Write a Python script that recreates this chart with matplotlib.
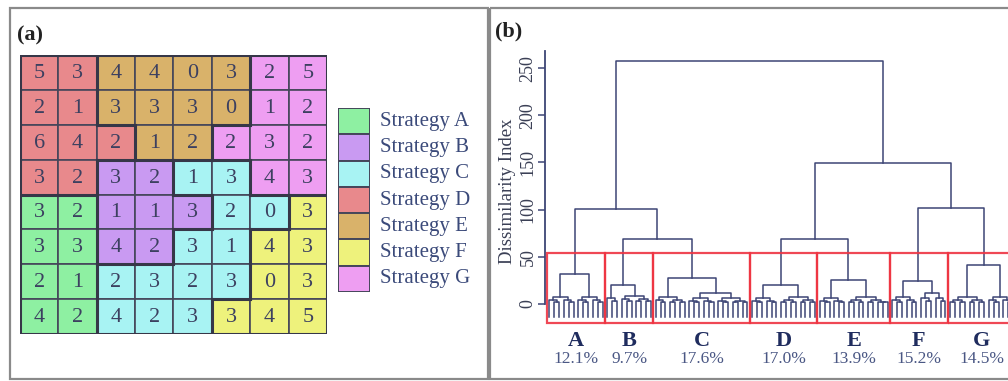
import matplotlib
matplotlib.use("Agg")
import matplotlib.pyplot as plt
from matplotlib.patches import Rectangle

plt.rcParams['font.family'] = ['Liberation Serif', 'DejaVu Serif']

# ---- panel (a) data: 8x8 grid of values and the strategy of each cell
grid_values = [
    [5, 3, 4, 4, 0, 3, 2, 5],
    [2, 1, 3, 3, 3, 0, 1, 2],
    [6, 4, 2, 1, 2, 2, 3, 2],
    [3, 2, 3, 2, 1, 3, 4, 3],
    [3, 2, 1, 1, 3, 2, 0, 3],
    [3, 3, 4, 2, 3, 1, 4, 3],
    [2, 1, 2, 3, 2, 3, 0, 3],
    [4, 2, 4, 2, 3, 3, 4, 5],
]
grid_strategy = ["DDEEEEGG", "DDEEEEGG", "DDDEEGGG", "DDBBCCGG",
                 "AABBBCCF", "AABBCCFF", "AACCCCFF", "AACCCFFF"]
strategies = ["A", "B", "C", "D", "E", "F", "G"]
strategy_colors = ["#8ef0a2", "#c99af2", "#a8f3f3", "#e8898c",
                   "#d9b26a", "#eef27c", "#ee9ef2"]

# ---- panel (b) data: dendrogram
clusters = ["A", "B", "C", "D", "E", "F", "G"]
shares = ["12.1%", "9.7%", "17.6%", "17.0%", "13.9%", "15.2%", "14.5%"]
cluster_heights = [32, 20, 28, 20, 25, 24, 41]
left_sizes = [6, 3, 7, 6, 6, 6, 8]
right_sizes = [6, 7, 13, 8, 9, 6, 6]
left_heights = [7, 6, 8, 6, 6, 8, 8]
right_heights = [8, 9, 12, 8, 8, 12, 7]
upper_left = ["B", "A", "D", "F", "DE", "ABC"]
upper_right = ["C", "BC", "E", "G", "FG", "DEFG"]
upper_heights = [69, 101, 69, 102, 149, 258]
cut_height = 54
leaf_bottom = -14
pair_height = 2.5

line_col = "#3d4575"
red = "#ee3442"

fig = plt.figure(figsize=(10.08, 3.81), dpi=100)

# frame overlay in pixel coordinates
frame = fig.add_axes([0, 0, 1, 1])
frame.set_xlim(0, 1008)
frame.set_ylim(381, 0)
frame.axis("off")
frame.add_patch(Rectangle((10, 8), 478, 371, fill=False, ec="#8a8a8a", lw=1.6))
frame.add_patch(Rectangle((490, 8), 530, 371, fill=False, ec="#8a8a8a", lw=1.6))
frame.text(17, 35, "(a)", fontsize=16, fontweight="bold", color="#222222", va="center")
frame.text(495, 31, "(b)", fontsize=16, fontweight="bold", color="#222222", va="center")

# ---- panel (a) grid
ax_g = fig.add_axes([20 / 1008, 1 - 334 / 381, 307 / 1008, 279 / 381])
ax_g.set_xlim(0, 8)
ax_g.set_ylim(8, 0)
ax_g.axis("off")
color_of = dict(zip(strategies, strategy_colors))
for r in range(8):
    for c in range(8):
        s = grid_strategy[r][c]
        ax_g.add_patch(Rectangle((c, r), 1, 1, fc=color_of[s], ec="#45465a", lw=1.2))
        ax_g.text(c + 0.5, r + 0.53, str(grid_values[r][c]), ha="center", va="center",
                  fontsize=16, color="#3c4060")
# thicker lines on strategy borders
for r in range(8):
    for c in range(8):
        s = grid_strategy[r][c]
        if c == 7 or grid_strategy[r][c + 1] != s:
            ax_g.plot([c + 1, c + 1], [r, r + 1], color="#363748", lw=2.2, solid_capstyle="projecting")
        if c == 0:
            ax_g.plot([0, 0], [r, r + 1], color="#363748", lw=2.2, solid_capstyle="projecting")
        if r == 7 or grid_strategy[r + 1][c] != s:
            ax_g.plot([c, c + 1], [r + 1, r + 1], color="#363748", lw=2.2, solid_capstyle="projecting")
        if r == 0:
            ax_g.plot([c, c + 1], [0, 0], color="#363748", lw=2.2, solid_capstyle="projecting")

# legend
ax_l = fig.add_axes([338 / 1008, 1 - 292 / 381, 32 / 1008, 184 / 381])
ax_l.set_xlim(0, 1)
ax_l.set_ylim(7, 0)
ax_l.axis("off")
for i, s in enumerate(strategies):
    ax_l.add_patch(Rectangle((0, i), 1, 1, fc=strategy_colors[i], ec="#45465a", lw=1.4))
    ax_l.text(1.3, i + 0.5, "Strategy " + s, fontsize=15, color="#3b4a7a",
              va="center", ha="left", clip_on=False)

# ---- panel (b) dendrogram
s_px = 4.83
x_left = -0.5 - 2 / s_px
x_right = x_left + (1030 - 545) / s_px
ax_d = fig.add_axes([545 / 1008, 1 - 341.8 / 381, 485 / 1008, 302 / 381])
ax_d.set_xlim(x_left, x_right)
ax_d.set_ylim(-40, 280)


def u_shape(xa, ha, xb, hb, h):
    ax_d.plot([xa, xa, xb, xb], [ha, h, h, hb], color=line_col, lw=1.1)


def branch(x0, n, h):
    # draws a small sub-tree of n leaves starting at leaf x0, top at h
    if n == 1:
        return x0, leaf_bottom
    nl = n // 2
    nr = n - nl
    ch = max(pair_height, h * 0.55)
    xa, ha = branch(x0, nl, ch)
    xb, hb = branch(x0 + nl, nr, ch)
    u_shape(xa, ha, xb, hb, h)
    return (xa + xb) / 2, h


nodes = {}
start = 0
for i, name in enumerate(clusters):
    n = left_sizes[i] + right_sizes[i]
    xa, ha = branch(start, left_sizes[i], left_heights[i])
    xb, hb = branch(start + left_sizes[i], right_sizes[i], right_heights[i])
    u_shape(xa, ha, xb, hb, cluster_heights[i])
    nodes[name] = ((xa + xb) / 2, cluster_heights[i])
    ax_d.add_patch(Rectangle((start - 0.5, -20), n, cut_height + 20, fill=False,
                             ec=red, lw=1.6, alpha=0.9, zorder=3))
    cx = start - 0.5 + n / 2
    ax_d.text(cx, -39, name, ha="center", va="center", fontsize=16, fontweight="bold",
              color="#1f2c5e", clip_on=False)
    ax_d.text(cx, -58, shares[i], ha="center", va="center", fontsize=12.5,
              color="#4a5784", clip_on=False)
    start += n

for a, b, h in zip(upper_left, upper_right, upper_heights):
    xa, ha = nodes[a]
    xb, hb = nodes[b]
    u_shape(xa, ha, xb, hb, h)
    nodes[a + b] = ((xa + xb) / 2, h)

for sp in ["top", "right", "bottom"]:
    ax_d.spines[sp].set_visible(False)
ax_d.spines["left"].set_bounds(0, 268)
ax_d.spines["left"].set_color(line_col)
ax_d.spines["left"].set_linewidth(1.3)
ax_d.set_xticks([])
ax_d.set_yticks([0, 50, 100, 150, 200, 250])
ax_d.tick_params(axis="y", colors=line_col, labelcolor="#3a3f55", labelsize=13,
                 length=5, width=1.1, pad=1)
for lab in ax_d.get_yticklabels():
    lab.set_rotation(90)
    lab.set_va("center")
ax_d.set_ylabel("Dissimilarity Index", fontsize=13.5, color="#3a3f55", labelpad=3)
ax_d.patch.set_alpha(0)

fig.savefig("out.png", dpi=100)
